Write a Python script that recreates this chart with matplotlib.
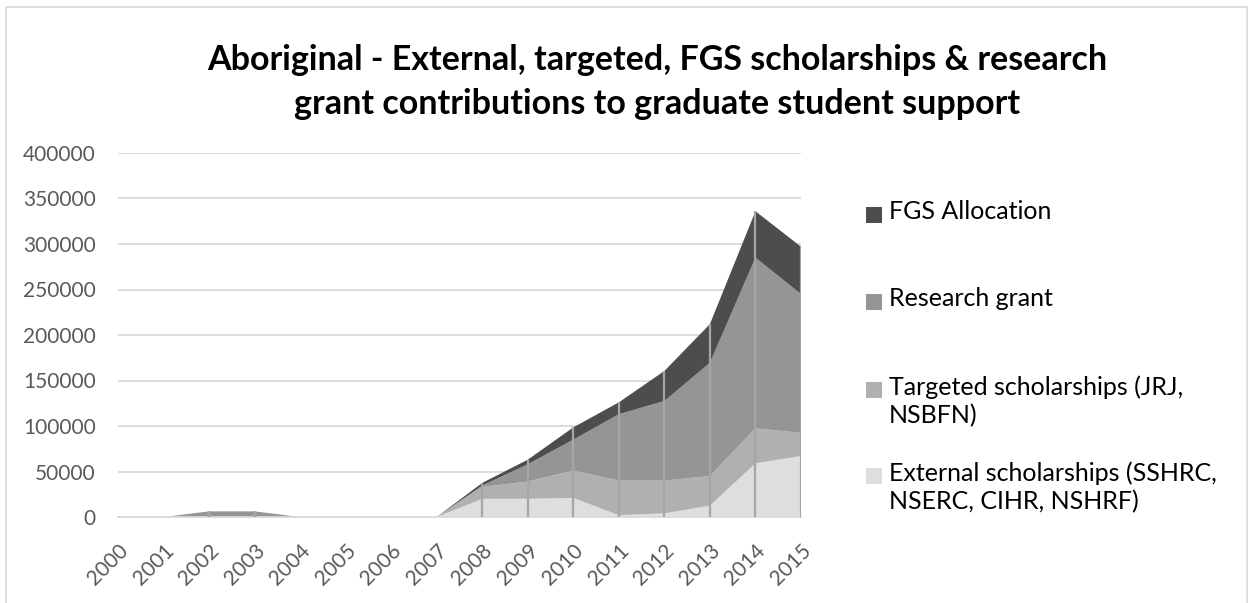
import numpy as np
import matplotlib.pyplot as plt
from matplotlib.patches import Rectangle

plt.rcParams['font.family'] = ['Lato', 'DejaVu Sans']

# ---- data ----
years = list(range(2000, 2016))
external = [0, 0, 0, 0, 0, 0, 0, 0, 20000, 20000, 21000, 2000, 4000, 12500, 59000, 67000]
targeted = [0, 0, 0, 0, 0, 0, 0, 0, 13000, 19000, 30000, 38000, 36000, 32500, 38500, 25500]
research = [0, 0, 6200, 6200, 0, 0, 0, 0, 1500, 19000, 34000, 73000, 87500, 124500, 187500, 152500]
fgs = [0, 0, 0, 0, 0, 0, 0, 0, 3000, 5000, 13500, 13000, 33000, 42500, 51000, 52000]

labels = ["External scholarships (SSHRC,\nNSERC, CIHR, NSHRF)",
          "Targeted scholarships (JRJ,\nNSBFN)",
          "Research grant",
          "FGS Allocation"]
colors = ["#dedede", "#b0b0b0", "#959595", "#4d4d4d"]
title = ("Aboriginal - External, targeted, FGS scholarships & research\n"
         "grant contributions to graduate student support")

W, H = 1257, 603
fig = plt.figure(figsize=(W / 100, H / 100), dpi=100)
ax = fig.add_axes([118 / W, 1 - 517 / H, (801 - 118) / W, (517 - 153) / H])

series = [external, targeted, research, fgs]
ax.stackplot(years, *series, colors=colors, linewidth=0, zorder=2)

# drop lines at each year
total = np.sum(series, axis=0)
ax.vlines(years, 0, total, colors="#a6a6a6", linewidth=1.6, zorder=3)

ax.set_xlim(2000, 2015)
ax.set_ylim(0, 400000)
ax.set_yticks(range(0, 400001, 50000))
ax.set_xticks(years)
ax.set_xticklabels([str(y) for y in years], rotation=45, ha="right",
                   rotation_mode="anchor")
ax.grid(axis="y", color="#d9d9d9", linewidth=1.3, zorder=0)
ax.set_axisbelow(True)
for s in ["top", "right", "left"]:
    ax.spines[s].set_visible(False)
ax.spines["bottom"].set_color("#d9d9d9")
ax.spines["bottom"].set_linewidth(1.3)
ax.tick_params(axis="both", length=0, labelsize=15, colors="#595959")
ax.tick_params(axis="x", pad=17)
ax.tick_params(axis="y", pad=16)

fig.text(657 / W, 1 - 82 / H, title, ha="center", va="center", fontsize=24.5,
         fontweight="bold", color="#000000", linespacing=1.45)

# legend drawn by hand so the square sits beside the first line
legend_y = [476, 390, 302, 215]
for lab, col, ly in zip(labels, colors, legend_y):
    fig.patches.append(Rectangle((866 / W, 1 - (ly + 8) / H), 16 / W, 16 / H,
                                 transform=fig.transFigure, facecolor=col,
                                 edgecolor="none"))
    fig.text(889 / W, 1 - (ly - 15) / H, lab, ha="left", va="top", fontsize=18,
             color="#000000", linespacing=1.3)

# chart frame
fig.patches.append(Rectangle((6 / W, -0.05), (1247 - 6) / W, 1.05 - 7 / H,
                             transform=fig.transFigure, facecolor="none",
                             edgecolor="#d9d9d9", linewidth=1.2))

fig.savefig("out.png", dpi=100)
